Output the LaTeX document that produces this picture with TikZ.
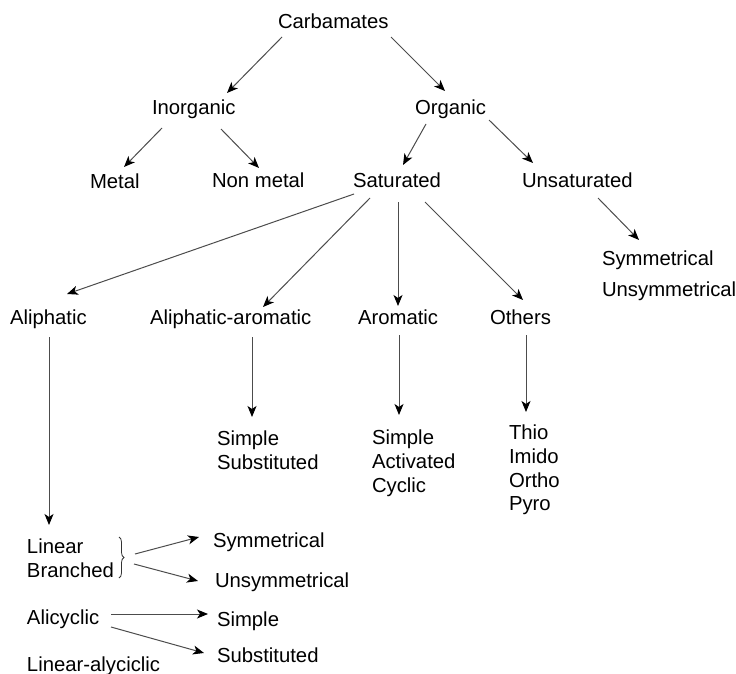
\documentclass[tikz,border=0pt]{standalone}
\usepackage{fontspec}
\setmainfont{Liberation Sans}
\usetikzlibrary{arrows.meta,calc,decorations.pathreplacing}
\tikzset{
  lbl/.style={anchor=base west, inner sep=0pt, outer sep=0pt, font=\fontsize{20.3}{24}\selectfont},
  arr/.style={draw=black!70, line width=1pt, -{Stealth[black,length=11pt,width=9pt,inset=3pt]}},
  bracestyle/.style={draw=black!80, line width=0.8pt, decorate, decoration={brace,amplitude=5pt}}
}
\begin{document}
\begin{tikzpicture}[x=1pt,y=-1pt]
\useasboundingbox (0,0) rectangle (736,674);
% nodes
\node[lbl] (carb) at (278,29) {Carbamates};
\node[lbl] (inorg) at (152,115) {Inorganic};
\node[lbl] (org) at (415,115) {Organic};
\node[lbl] (metal) at (90,188) {Metal};
\node[lbl] (nonmetal) at (212,187) {Non metal};
\node[lbl] (sat) at (353,187) {Saturated};
\node[lbl] (unsat) at (522,187) {Unsaturated};
\node[lbl] (usym1) at (602,265) {Symmetrical};
\node[lbl] (usym2) at (602,296) {Unsymmetrical};
\node[lbl] (aliph) at (10,324) {Aliphatic};
\node[lbl] (aa) at (150,324) {Aliphatic-aromatic};
\node[lbl] (arom) at (358,324) {Aromatic};
\node[lbl] (others) at (490,324) {Others};
\node[lbl] (aa1) at (217,445) {Simple};
\node[lbl] (aa2) at (217,469) {Substituted};
\node[lbl] (ar1) at (372,444) {Simple};
\node[lbl] (ar2) at (372,468) {Activated};
\node[lbl] (ar3) at (372,492) {Cyclic};
\node[lbl] (ot1) at (509,439) {Thio};
\node[lbl] (ot2) at (509,463) {Imido};
\node[lbl] (ot3) at (509,487) {Ortho};
\node[lbl] (ot4) at (509,510) {Pyro};
\node[lbl] (lin1) at (27,553) {Linear};
\node[lbl] (lin2) at (27,577) {Branched};
\node[lbl] (bsym) at (213,547) {Symmetrical};
\node[lbl] (bunsym) at (215,587) {Unsymmetrical};
\node[lbl] (alic) at (27,624) {Alicyclic};
\node[lbl] (bsimp) at (217,626) {Simple};
\node[lbl] (bsub) at (217,662) {Substituted};
\node[lbl] (linalic) at (27,671) {Linear-alyciclic};
% brace
\draw[bracestyle] ($(lin1.base west)+(92,-16)$) -- ($(lin1.base west)+(92,25)$);
\coordinate (brace) at ($(lin1.base west)+(97,4)$);
% arrows
\draw[arr] ($(carb.base west)+(4,8)$) -- ($(inorg.base west)+(75,-22)$);
\draw[arr] ($(carb.base west)+(113,8)$) -- ($(org.base west)+(30,-24)$);
\draw[arr] ($(inorg.base west)+(10,13)$) -- ($(metal.base west)+(34,-21)$);
\draw[arr] ($(inorg.base west)+(69,14)$) -- ($(nonmetal.base west)+(47,-19)$);
\draw[arr] ($(org.base west)+(11,9)$) -- ($(sat.base west)+(50,-22)$);
\draw[arr] ($(org.base west)+(74,5)$) -- ($(unsat.base west)+(11,-24)$);
\draw[arr] ($(sat.base west)+(1,7)$) -- ($(aliph.base west)+(57,-30)$);
\draw[arr] ($(sat.base west)+(17,11)$) -- ($(aa.base west)+(113,-17)$);
\draw[arr] ($(sat.base west)+(45,15)$) -- ($(arom.base west)+(40,-18)$);
\draw[arr] ($(sat.base west)+(72,15)$) -- ($(others.base west)+(33,-24)$);
\draw[arr] ($(unsat.base west)+(76,11)$) -- ($(usym1.base west)+(37,-25)$);
\draw[arr] ($(aliph.base west)+(39,13)$) -- ($(lin1.base west)+(22,-28)$);
\draw[arr] ($(aa.base west)+(102,13)$) -- ($(aa1.base west)+(35,-28)$);
\draw[arr] ($(arom.base west)+(41,11)$) -- ($(ar1.base west)+(27,-29)$);
\draw[arr] ($(others.base west)+(36,11)$) -- ($(ot1.base west)+(17,-27)$);
\draw[arr] ($(brace)+(11,-3)$) -- ($(bsym.base west)+(-14,-10)$);
\draw[arr] ($(brace)+(10,7)$) -- ($(bunsym.base west)+(-17,-6)$);
\draw[arr] ($(alic.base west)+(84,-10)$) -- ($(bsimp.base west)+(-9,-12)$);
\draw[arr] ($(alic.base west)+(84,3)$) -- ($(bsub.base west)+(-13,-9)$);
\end{tikzpicture}
\end{document}
